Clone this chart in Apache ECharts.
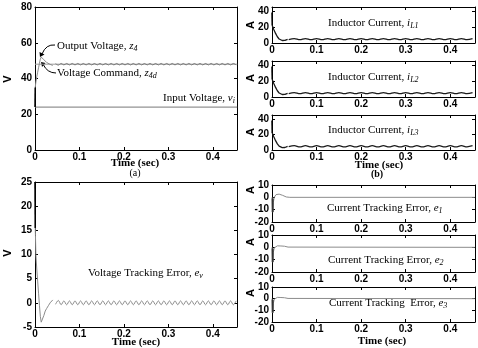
<!DOCTYPE html>
<html><head><meta charset="utf-8">
<script src="https://cdn.jsdelivr.net/npm/echarts@6/dist/echarts.min.js"></script>
<style>html,body{margin:0;padding:0;background:#fff}#c{width:478px;height:348px}</style>
</head><body><div id="c"></div>
<script>
// ---------- DATA ----------
const xTicksLabel = ['0','0.1','0.2','0.3','0.4'];
// (a) top: voltages
const inputVoltageT = [0, 0.455];
const inputVoltageV = [24, 24];
const commandT = [0, 0.455];
const commandV = [48, 48];
const outputStartT = [0, 0.0005];
const outputStartV = [24, 35];
const outputTransT = [0.0005,0.001,0.002,0.004,0.006,0.008,0.010,0.012,0.014,0.016,0.018,0.020,0.023,0.026,0.030,0.034,0.037,0.040];
const outputTransV = [35,36,38,41,43.5,46,48.5,50.8,52,52.2,51.6,50.5,49.6,49,48.5,47.9,47.5,47.3];
const rippleStart = 0.04625, rippleStep = 0.00625;
const outputRipple = [48.3,47.5,48.4,47.6,48.4,47.6,48.4,47.6,48.4,47.6,48.4,47.6,48.4,47.6,48.4,47.6,48.4,47.6,48.4,47.6,48.4,47.6,48.4,47.6,48.4,47.6,48.4,47.6,48.4,47.6,48.4,47.6,48.4,47.6,48.4,47.6,48.4,47.6,48.4,47.6,48.4,47.6,48.4,47.6,48.4,47.6,48.4,47.6,48.4,47.6,48.4,47.6,48.4,47.6,48.4,47.6,48.4,47.6,48.4,47.6,48.4,47.6,48.4,47.6,48.4,47.6];
// (a) bottom: voltage tracking error
const evStartT = [0, 0.0005];
const evStartV = [25, 15.5];
const evTransT = [0.0005,0.001,0.002,0.004,0.006,0.008,0.010,0.012,0.014,0.016,0.018,0.020,0.023,0.026,0.030,0.034,0.037,0.040];
const evTransV = [15.5,14,10,7,4.5,2,-0.5,-2.8,-4,-4.2,-3.6,-2.6,-1.7,-1.2,-0.6,0,0.4,0.6];
const evRipple = [-0.3,0.5,-0.4,0.4,-0.4,0.4,-0.4,0.4,-0.4,0.4,-0.4,0.4,-0.4,0.4,-0.4,0.4,-0.4,0.4,-0.4,0.4,-0.4,0.4,-0.4,0.4,-0.4,0.4,-0.4,0.4,-0.4,0.4,-0.4,0.4,-0.4,0.4,-0.4,0.4,-0.4,0.4,-0.4,0.4,-0.4,0.4,-0.4,0.4,-0.4,0.4,-0.4,0.4,-0.4,0.4,-0.4,0.4,-0.4,0.4,-0.4,0.4,-0.4,0.4,-0.4,0.4,-0.4,0.4,-0.4,0.4,-0.4,0.4];
// (b) inductor currents
const iLStartT = [0, 0.0005];
const iLStartV = [38, 22];
const iLTransT = [0.0005,0.002,0.004,0.006,0.008,0.010,0.012,0.014,0.016,0.018,0.020,0.023,0.026,0.029,0.032,0.035];
const iL1TransV = [22,19.5,17,14.5,12,9.8,7.8,6.2,5,4.1,3.5,3.1,3.0,3.2,3.8,4.6];
const iL2TransV = [22,19.5,17,14.5,12,9.8,7.8,6.2,5,4.1,3.5,3.1,3.0,3.2,3.8,4.6];
const iL3TransV = [22,19.5,17,14.5,12,9.8,7.8,6.2,5,4.1,3.5,3.1,3.0,3.2,3.8,4.6];
const iLRippleStart = 0.0375, iLRippleStep = 0.0125;
const iL1Ripple = [4.2,5.5,4.1,5.5,4.1,5.5,4.1,5.5,4.1,5.5,4.1,5.5,4.1,5.5,4.1,5.5,4.1,5.5,4.1,5.5,4.1,5.5,4.1,5.5,4.1,5.5,4.1,5.5,4.1,5.5,4.1,5.5,4.1,5.5];
const iL2Ripple = [4.2,5.5,4.1,5.5,4.1,5.5,4.1,5.5,4.1,5.5,4.1,5.5,4.1,5.5,4.1,5.5,4.1,5.5,4.1,5.5,4.1,5.5,4.1,5.5,4.1,5.5,4.1,5.5,4.1,5.5,4.1,5.5,4.1,5.5];
const iL3Ripple = [4.2,5.5,4.1,5.5,4.1,5.5,4.1,5.5,4.1,5.5,4.1,5.5,4.1,5.5,4.1,5.5,4.1,5.5,4.1,5.5,4.1,5.5,4.1,5.5,4.1,5.5,4.1,5.5,4.1,5.5,4.1,5.5,4.1,5.5];
// (b) current tracking errors
const eStartT = [0.0015, 0.0015];
const eStartV = [-1, -12];
const eT  = [0,0.0015,0.003,0.005,0.007,0.009,0.012,0.016,0.020,0.024,0.028,0.032,0.036,0.040,0.455];
const e1V = [0,-12,-4,0,1.5,2.2,2.6,2.6,2.4,1.6,0.8,0.3,0.1,0,0];
const e2V = [0,-12,-4,-0.5,0.5,1,1.2,1.2,1.1,1,0.9,0.6,0.2,0,0];
const e3V = [0,-12,-4,-0.5,0.5,1,1.1,1.1,1.0,0.9,0.8,0.5,0.2,0,0];

// ---------- HELPERS ----------
const pairs = (t, v) => t.map((x, i) => [x, v[i]]);
const rip = (t0, dt, v) => v.map((y, i) => [t0 + i * dt, y]);
const sans = 'Liberation Sans, Arial, sans-serif';
const serif = 'Liberation Serif, Times New Roman, serif';

const grids = [
  {left:35, top:7,   width:202, height:143, xmax:0.4545, ymin:0,   ymax:80, yint:20},
  {left:35, top:182, width:202, height:145, xmax:0.4545, ymin:-5,  ymax:25, yint:5},
  {left:272, top:7,  width:205, height:36,  xmax:0.4555, ymin:0,   ymax:45, yint:20},
  {left:272, top:61, width:205, height:36,  xmax:0.4555, ymin:0,   ymax:45, yint:20},
  {left:272, top:115,width:205, height:35,  xmax:0.4555, ymin:0,   ymax:45, yint:20},
  {left:272, top:185,width:205, height:37,  xmax:0.4555, ymin:-20, ymax:10, yint:10},
  {left:272, top:235,width:205, height:37,  xmax:0.4555, ymin:-20, ymax:10, yint:10},
  {left:272, top:287,width:205, height:35,  xmax:0.4555, ymin:-20, ymax:10, yint:10}
];
const isMult = (v, s) => Math.abs(v / s - Math.round(v / s)) < 1e-6;
const labelStyle = {fontSize:10, fontWeight:'bold', color:'#000', fontFamily:sans};
const xAxes = [], yAxes = [];
grids.forEach((g, i) => {
  const base = {gridIndex:i, type:'value', min:0, max:g.xmax, interval:0.1,
    axisLine:{show:true, onZero:false, lineStyle:{color:'#000', width:1}},
    axisTick:{show:true, inside:true, length:3, lineStyle:{color:'#000'}},
    splitLine:{show:false}};
  xAxes.push(Object.assign({}, base, {position:'bottom',
    axisLabel:Object.assign({margin:2, formatter:v => isMult(v,0.1) ? xTicksLabel[Math.round(v*10)] : ''}, labelStyle)}));
  xAxes.push(Object.assign({}, base, {position:'top', axisLabel:{show:false}}));
  const yb = {gridIndex:i, type:'value', min:g.ymin, max:g.ymax, interval:g.yint,
    axisLine:{show:true, onZero:false, lineStyle:{color:'#000', width:1}},
    axisTick:{show:true, inside:true, length:3, lineStyle:{color:'#000'}},
    splitLine:{show:false}};
  yAxes.push(Object.assign({}, yb, {position:'left',
    axisLabel:Object.assign({margin:3, formatter:v => isMult(v,g.yint) ? String(v) : ''}, labelStyle)}));
  yAxes.push(Object.assign({}, yb, {position:'right', axisLabel:{show:false}}));
});
const line = (gi, data, color, w) => ({type:'line', xAxisIndex:2*gi, yAxisIndex:2*gi, data,
  showSymbol:false, symbol:'none', silent:true, animation:false, smooth:false,
  lineStyle:{color, width:w || 1}});
const ripLine = (gi, data, color, w) => Object.assign(line(gi, data, color, w), {smooth:0.35});

const grey = '#8c8c8c', dark = '#1a1a1a';
const series = [
  line(0, pairs(inputVoltageT, inputVoltageV), '#777'),
  line(0, pairs(commandT, commandV), '#9a9a9a'),
  line(0, pairs(outputStartT, outputStartV), '#000', 1.5),
  line(0, pairs(outputTransT, outputTransV), grey),
  ripLine(0, rip(rippleStart, rippleStep, outputRipple), '#777'),
  line(1, pairs(evStartT, evStartV), '#000', 1.5),
  line(1, pairs(evTransT, evTransV), grey),
  ripLine(1, rip(rippleStart, rippleStep, evRipple), grey),
  line(2, pairs(iLStartT, iLStartV), '#000', 1.5),
  line(2, pairs(iLTransT, iL1TransV), dark, 1.3),
  ripLine(2, rip(iLRippleStart, iLRippleStep, iL1Ripple), dark, 1.3),
  line(3, pairs(iLStartT, iLStartV), '#000', 1.5),
  line(3, pairs(iLTransT, iL2TransV), dark, 1.3),
  ripLine(3, rip(iLRippleStart, iLRippleStep, iL2Ripple), dark, 1.3),
  line(4, pairs(iLStartT, iLStartV), '#000', 1.5),
  line(4, pairs(iLTransT, iL3TransV), dark, 1.3),
  ripLine(4, rip(iLRippleStart, iLRippleStep, iL3Ripple), dark, 1.3),
  line(5, pairs(eT, e1V), grey),
  line(5, pairs(eStartT, eStartV), '#333', 2),
  line(6, pairs(eT, e2V), grey),
  line(6, pairs(eStartT, eStartV), '#333', 2),
  line(7, pairs(eT, e3V), grey),
  line(7, pairs(eStartT, eStartV), '#333', 2)
];

const rich = {
  n:{fontFamily:serif, fontSize:11, color:'#000'},
  v:{fontFamily:serif, fontSize:11, fontStyle:'italic', color:'#000'},
  s:{fontFamily:serif, fontSize:8, fontStyle:'italic', color:'#000', verticalAlign:'bottom', padding:[5,0,0,0]}
};
const txt = (x, y, text) => ({type:'text', x, y, silent:true,
  style:{text, rich, verticalAlign:'middle', align:'left'}});
const plain = (x, y, text, font, opts) => Object.assign({type:'text', x, y, silent:true,
  style:{text, font, fill:'#000', align:'center', verticalAlign:'middle'}}, opts || {});
const vlab = (x, y, t) => plain(x, y, t, 'bold 11px ' + sans, {rotation:Math.PI/2});

const graphic = [
  txt(57, 46, '{n|Output Voltage, }{v|z}{s|4}'),
  txt(57, 73, '{n|Voltage Command, }{v|z}{s|4d}'),
  txt(163, 98, '{n|Input Voltage, }{v|v}{s|i}'),
  txt(88, 273, '{n|Voltage Tracking Error, }{v|e}{s|v}'),
  txt(328, 23, '{n|Inductor Current, }{v|i}{s|L1}'),
  txt(328, 77, '{n|Inductor Current, }{v|i}{s|L2}'),
  txt(328, 130, '{n|Inductor Current, }{v|i}{s|L3}'),
  txt(327, 208, '{n|Current Tracking Error, }{v|e}{s|1}'),
  txt(328, 260, '{n|Current Tracking Error, }{v|e}{s|2}'),
  txt(329, 303, '{n|Current Tracking  Error, }{v|e}{s|3}'),
  plain(135, 163, 'Time (sec)', 'bold 11px ' + serif),
  plain(135, 173, '(a)', '10px ' + serif),
  plain(379, 165, 'Time (sec)', 'bold 11px ' + serif),
  plain(377, 174, '(b)', 'bold 10px ' + serif),
  plain(136, 342, 'Time (sec)', 'bold 11px ' + serif),
  plain(382, 341, 'Time (sec)', 'bold 11px ' + serif),
  vlab(8, 79, 'V'), vlab(8, 253, 'V'),
  vlab(251, 25, 'A'), vlab(251, 78, 'A'), vlab(251, 132, 'A'),
  vlab(251, 190, 'A'), vlab(251, 242, 'A'), vlab(251, 293, 'A'),
  // annotation arrows
  {type:'bezierCurve', silent:true, shape:{x1:55, y1:45, x2:42, y2:54, cpx1:46, cpy1:44}, style:{stroke:'#000', lineWidth:1, fill:null}},
  {type:'polygon', silent:true, shape:{points:[[40,57],[39.5,52],[44.5,54.5]]}, style:{fill:'#000'}},
  {type:'bezierCurve', silent:true, shape:{x1:56, y1:73, x2:43, y2:64, cpx1:47, cpy1:73}, style:{stroke:'#000', lineWidth:1, fill:null}},
  {type:'polygon', silent:true, shape:{points:[[41,62],[45.5,63],[42,67]]}, style:{fill:'#000'}}
];

const chart = echarts.init(document.getElementById('c'), null, {renderer:'canvas'});
chart.setOption({
  animation:false,
  backgroundColor:'#fff',
  grid: grids.map(g => ({left:g.left, top:g.top, width:g.width, height:g.height, containLabel:false, show:false})),
  xAxis: xAxes, yAxis: yAxes, series, graphic
});
</script></body></html>
